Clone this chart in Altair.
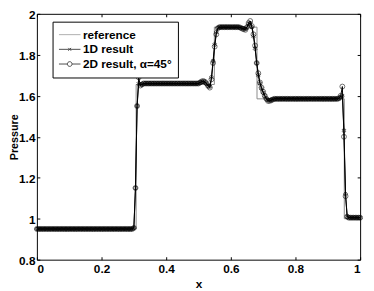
import altair as alt
import pandas as pd

# shared grid (cell centres) of the 1D and 2D results
x_grid = [
    0.000, 0.005, 0.010, 0.015, 0.020, 0.025, 0.030, 0.035, 0.040, 0.045,
    0.050, 0.055, 0.060, 0.065, 0.070, 0.075, 0.080, 0.085, 0.090, 0.095,
    0.100, 0.105, 0.110, 0.115, 0.120, 0.125, 0.130, 0.135, 0.140, 0.145,
    0.150, 0.155, 0.160, 0.165, 0.170, 0.175, 0.180, 0.185, 0.190, 0.195,
    0.200, 0.205, 0.210, 0.215, 0.220, 0.225, 0.230, 0.235, 0.240, 0.245,
    0.250, 0.255, 0.260, 0.265, 0.270, 0.275, 0.280, 0.285, 0.290, 0.295,
    0.300, 0.305, 0.310, 0.315, 0.320, 0.325, 0.330, 0.335, 0.340, 0.345,
    0.350, 0.355, 0.360, 0.365, 0.370, 0.375, 0.380, 0.385, 0.390, 0.395,
    0.400, 0.405, 0.410, 0.415, 0.420, 0.425, 0.430, 0.435, 0.440, 0.445,
    0.450, 0.455, 0.460, 0.465, 0.470, 0.475, 0.480, 0.485, 0.490, 0.495,
    0.500, 0.505, 0.510, 0.515, 0.520, 0.525, 0.530, 0.535, 0.540, 0.545,
    0.550, 0.555, 0.560, 0.565, 0.570, 0.575, 0.580, 0.585, 0.590, 0.595,
    0.600, 0.605, 0.610, 0.615, 0.620, 0.625, 0.630, 0.635, 0.640, 0.645,
    0.650, 0.655, 0.660, 0.665, 0.670, 0.675, 0.680, 0.685, 0.690, 0.695,
    0.700, 0.705, 0.710, 0.715, 0.720, 0.725, 0.730, 0.735, 0.740, 0.745,
    0.750, 0.755, 0.760, 0.765, 0.770, 0.775, 0.780, 0.785, 0.790, 0.795,
    0.800, 0.805, 0.810, 0.815, 0.820, 0.825, 0.830, 0.835, 0.840, 0.845,
    0.850, 0.855, 0.860, 0.865, 0.870, 0.875, 0.880, 0.885, 0.890, 0.895,
    0.900, 0.905, 0.910, 0.915, 0.920, 0.925, 0.930, 0.935, 0.940, 0.945,
    0.950, 0.955, 0.960, 0.965, 0.970, 0.975, 0.980, 0.985, 0.990, 0.995,
    1.000,
]

p_2d = [
    0.95, 0.95, 0.95, 0.95, 0.95, 0.95, 0.95, 0.95, 0.95, 0.95,
    0.95, 0.95, 0.95, 0.95, 0.95, 0.95, 0.95, 0.95, 0.95, 0.95,
    0.95, 0.95, 0.95, 0.95, 0.95, 0.95, 0.95, 0.95, 0.95, 0.95,
    0.95, 0.95, 0.95, 0.95, 0.95, 0.95, 0.95, 0.95, 0.95, 0.95,
    0.95, 0.95, 0.95, 0.95, 0.95, 0.95, 0.95, 0.95, 0.95, 0.95,
    0.95, 0.95, 0.95, 0.95, 0.95, 0.95, 0.95, 0.95, 0.95, 0.95,
    0.955, 1.15, 1.55, 1.69, 1.65, 1.655, 1.66, 1.66, 1.66, 1.66,
    1.66, 1.66, 1.66, 1.66, 1.66, 1.66, 1.66, 1.66, 1.66, 1.66,
    1.66, 1.66, 1.66, 1.66, 1.66, 1.66, 1.66, 1.66, 1.66, 1.66,
    1.66, 1.66, 1.66, 1.66, 1.66, 1.66, 1.66, 1.66, 1.66, 1.66,
    1.66, 1.665, 1.67, 1.672, 1.668, 1.66, 1.648, 1.64, 1.68, 1.76,
    1.84, 1.90, 1.93, 1.935, 1.935, 1.935, 1.935, 1.935, 1.935, 1.935,
    1.935, 1.935, 1.935, 1.935, 1.935, 1.935, 1.932, 1.928, 1.925, 1.922,
    1.935, 1.955, 1.965, 1.94, 1.90, 1.845, 1.76, 1.71, 1.665, 1.64,
    1.62, 1.60, 1.585, 1.575, 1.575, 1.578, 1.582, 1.585, 1.585, 1.585,
    1.585, 1.585, 1.585, 1.585, 1.585, 1.585, 1.585, 1.585, 1.585, 1.585,
    1.585, 1.585, 1.585, 1.585, 1.585, 1.585, 1.585, 1.585, 1.585, 1.585,
    1.585, 1.585, 1.585, 1.585, 1.585, 1.585, 1.585, 1.585, 1.585, 1.585,
    1.585, 1.585, 1.585, 1.585, 1.585, 1.585, 1.585, 1.588, 1.60, 1.645,
    1.40, 1.11, 1.01, 1.005, 1.005, 1.005, 1.005, 1.005, 1.005, 1.005,
    1.005,
]

p_1d = [
    0.95, 0.95, 0.95, 0.95, 0.95, 0.95, 0.95, 0.95, 0.95, 0.95,
    0.95, 0.95, 0.95, 0.95, 0.95, 0.95, 0.95, 0.95, 0.95, 0.95,
    0.95, 0.95, 0.95, 0.95, 0.95, 0.95, 0.95, 0.95, 0.95, 0.95,
    0.95, 0.95, 0.95, 0.95, 0.95, 0.95, 0.95, 0.95, 0.95, 0.95,
    0.95, 0.95, 0.95, 0.95, 0.95, 0.95, 0.95, 0.95, 0.95, 0.95,
    0.95, 0.95, 0.95, 0.95, 0.95, 0.95, 0.95, 0.95, 0.95, 0.95,
    0.955, 1.15, 1.55, 1.66, 1.655, 1.655, 1.66, 1.66, 1.66, 1.66,
    1.66, 1.66, 1.66, 1.66, 1.66, 1.66, 1.66, 1.66, 1.66, 1.66,
    1.66, 1.66, 1.66, 1.66, 1.66, 1.66, 1.66, 1.66, 1.66, 1.66,
    1.66, 1.66, 1.66, 1.66, 1.66, 1.66, 1.66, 1.66, 1.66, 1.66,
    1.66, 1.665, 1.668, 1.67, 1.666, 1.658, 1.648, 1.645, 1.69, 1.77,
    1.85, 1.91, 1.93, 1.935, 1.935, 1.935, 1.935, 1.935, 1.935, 1.935,
    1.935, 1.935, 1.935, 1.935, 1.935, 1.935, 1.932, 1.93, 1.928, 1.926,
    1.935, 1.95, 1.955, 1.935, 1.89, 1.83, 1.76, 1.70, 1.66, 1.635,
    1.615, 1.60, 1.585, 1.578, 1.578, 1.58, 1.583, 1.585, 1.585, 1.585,
    1.585, 1.585, 1.585, 1.585, 1.585, 1.585, 1.585, 1.585, 1.585, 1.585,
    1.585, 1.585, 1.585, 1.585, 1.585, 1.585, 1.585, 1.585, 1.585, 1.585,
    1.585, 1.585, 1.585, 1.585, 1.585, 1.585, 1.585, 1.585, 1.585, 1.585,
    1.585, 1.585, 1.585, 1.585, 1.585, 1.585, 1.585, 1.588, 1.595, 1.60,
    1.43, 1.12, 1.01, 1.005, 1.005, 1.005, 1.005, 1.005, 1.005, 1.005,
    1.005,
]

x_ref = [0.0, 0.307, 0.307, 0.549, 0.549, 0.681, 0.681, 0.951, 0.951, 1.0]
p_ref = [0.95, 0.95, 1.655, 1.655, 1.935, 1.935, 1.585, 1.585, 1.0, 1.0]

series_names = ["reference", "1D result", "2D result, \u03b1=45\u00b0"]
x_ticks = [0, 0.2, 0.4, 0.6, 0.8, 1]
y_ticks = [0.8, 1, 1.2, 1.4, 1.6, 1.8, 2]

rows = []
for i, (xv, pv) in enumerate(zip(x_ref, p_ref)):
    rows.append({"series": series_names[0], "x": xv, "p": pv, "i": i})
for i, (xv, pv) in enumerate(zip(x_grid, p_1d)):
    rows.append({"series": series_names[1], "x": xv, "p": pv, "i": i})
for i, (xv, pv) in enumerate(zip(x_grid, p_2d)):
    rows.append({"series": series_names[2], "x": xv, "p": pv, "i": i})
df = pd.DataFrame(rows)

FONT = "Liberation Sans"
xs = alt.Scale(domain=[0, 1], nice=False, zero=False)
ys = alt.Scale(domain=[0.8, 2], nice=False, zero=False)

base = alt.Chart(df)

ref_line = base.transform_filter(alt.datum.series == series_names[0]).mark_line(
    color="#8a8a8a", strokeWidth=1
).encode(
    x=alt.X("x:Q", scale=xs, title="x",
            axis=alt.Axis(values=x_ticks, format="~g", offset=-3, tickSize=3,
                          labelPadding=4, titlePadding=4, domain=False)),
    y=alt.Y("p:Q", scale=ys, title="Pressure",
            axis=alt.Axis(values=y_ticks, format="~g", offset=-3, tickSize=3,
                          labelPadding=2, labelOffset=0.5, titleX=-21,
                          titleFontSize=11, domain=False)),
    order="i:Q",
)

def line_for(name):
    return base.transform_filter(alt.datum.series == name).mark_line(
        color="black", strokeWidth=1
    ).encode(
        x=alt.X("x:Q", scale=xs, axis=None),
        y=alt.Y("p:Q", scale=ys, axis=None),
        order="i:Q",
    )

line_1d = line_for(series_names[1])
line_2d = line_for(series_names[2])

pts_1d = base.transform_filter(alt.datum.series == series_names[1]).mark_point(
    shape="cross", angle=45, size=14, filled=False, color="black", strokeWidth=0.9
).encode(
    x=alt.X("x:Q", scale=xs, axis=None),
    y=alt.Y("p:Q", scale=ys, axis=None),
)

pts_2d = base.transform_filter(alt.datum.series == series_names[2]).mark_point(
    shape="circle", size=25, filled=False, color="black", strokeWidth=0.8
).encode(
    x=alt.X("x:Q", scale=xs, axis=None),
    y=alt.Y("p:Q", scale=ys, axis=None),
)

sym_ref = "M-1,0L1,0"
sym_1d = "M-1,0L1,0M-0.13,-0.13L0.13,0.13M-0.13,0.13L0.13,-0.13"
sym_2d = ("M-1,0L-0.22,0M0.22,0L1,0M0.22,0A0.22,0.22 0 1 1 -0.22,0"
          "A0.22,0.22 0 1 1 0.22,0")

legend_layer = base.transform_filter("false").mark_point(
    filled=False, size=484, strokeWidth=1
).encode(
    x=alt.X("x:Q", scale=xs,
            axis=alt.Axis(orient="top", values=x_ticks, labels=False, offset=-3,
                          tickSize=3, domain=False, title=None)),
    y=alt.Y("p:Q", scale=ys,
            axis=alt.Axis(orient="right", values=y_ticks, labels=False, offset=-3,
                          tickSize=3, domain=False, title=None)),
    color=alt.Color("series:N",
                    scale=alt.Scale(domain=series_names,
                                    range=["#8a8a8a", "black", "black"]),
                    legend=alt.Legend(title=None, orient="none", legendX=16,
                                      legendY=8, padding=6, labelOffset=2,
                                      clipHeight=14.5, rowPadding=0,
                                      symbolSize=484, symbolStrokeWidth=1,
                                      labelFont=FONT, labelFontSize=12,
                                      labelFontWeight="bold", labelColor="black",
                                      fillColor="white", strokeColor="black")),
    shape=alt.Shape("series:N",
                    scale=alt.Scale(domain=series_names,
                                    range=[sym_ref, sym_1d, sym_2d])),
)

chart = alt.layer(
    ref_line, line_1d, line_2d, pts_1d, pts_2d, legend_layer
).resolve_axis(x="independent", y="independent").properties(
    width=330, height=251,
    autosize=alt.AutoSizeParams(type="none"),
    padding={"left": 29.5, "top": 3, "right": 6, "bottom": 28},
).configure_view(
    stroke="black", strokeWidth=1
).configure_axis(
    grid=False,
    labelFont=FONT, labelFontSize=12, labelFontWeight="bold", labelColor="black",
    titleFont=FONT, titleFontSize=12, titleFontWeight="bold", titleColor="black",
    tickColor="black", tickWidth=1,
)

chart.save("out.html", embed_options={"renderer": "svg", "actions": False})
